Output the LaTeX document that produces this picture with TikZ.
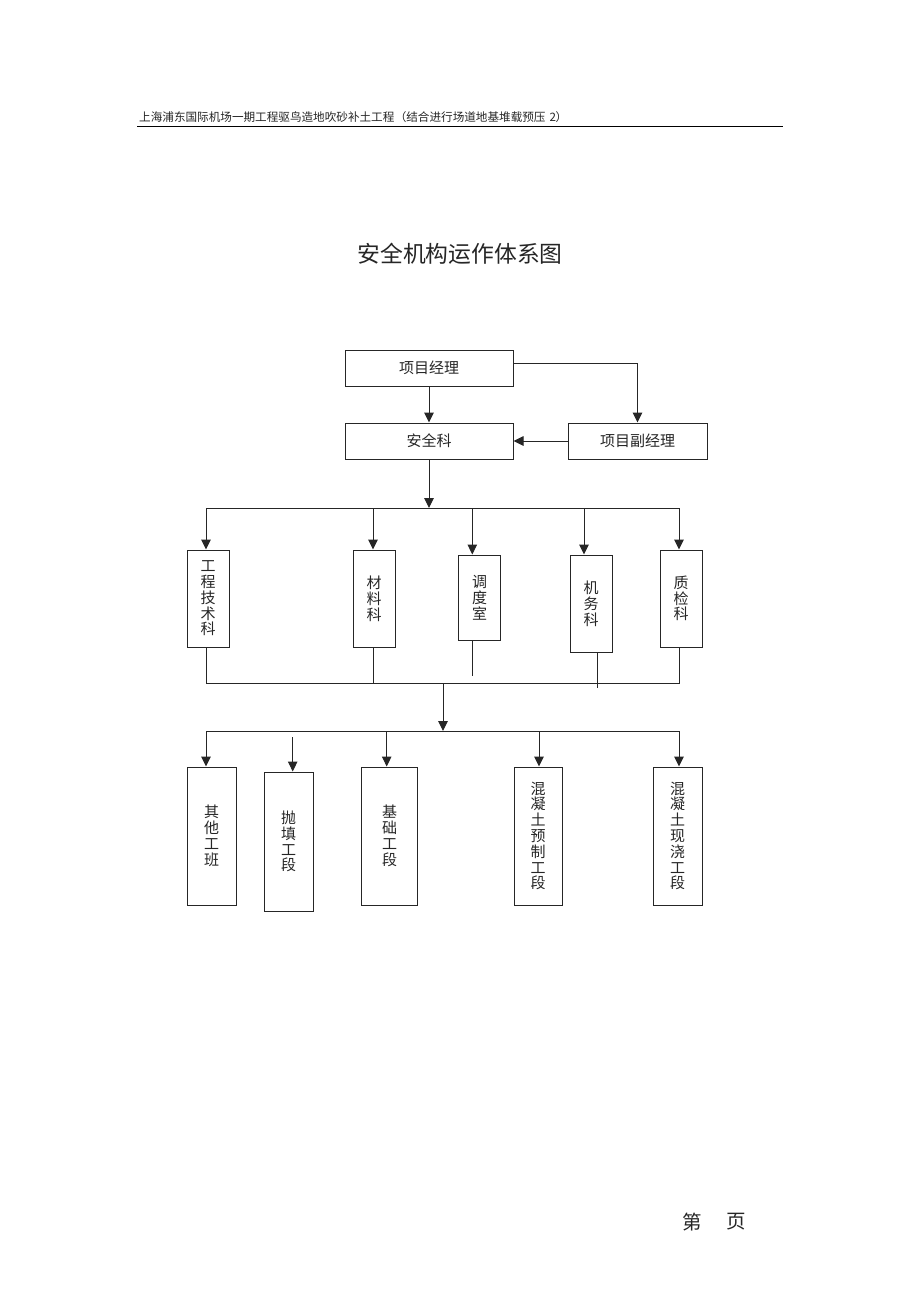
\documentclass[tikz,border=0pt]{standalone}
\usepackage{fontspec}
\setmainfont{Noto Sans CJK SC}
\usetikzlibrary{arrows.meta,calc}
\definecolor{ink}{gray}{0.15}
\begin{document}
\begin{tikzpicture}[x=1pt,y=-1pt,
  ln/.style={line width=1pt,draw=ink},
  arr/.style={line width=1pt,draw=ink,-{Triangle[width=9.5pt,length=10pt]}},
  box/.style={draw=ink,line width=1pt,inner sep=0pt,align=center,text=ink,font=\fontsize{15}{15.8}\selectfont}]
\fill[white] (0,0) rectangle (920,1302);
\useasboundingbox (0,0) rectangle (920,1302);

% header
\node[anchor=west,inner sep=0pt,text=ink,font=\fontsize{11.6}{12.5}\selectfont] (hdr) at (139,117) {上海浦东国际机场一期工程驱鸟造地吹砂补土工程\makebox[12pt][r]{（}结合进行场道地基堆载预压\hspace{4pt}2\makebox[11pt][c]{）}};
\coordinate (rl) at (137,126.5);
\coordinate (rr) at (783,126.5);
\draw[line width=1.6pt] (rl) -- (rr);

% title
\node[inner sep=0pt,text=ink,font=\fontsize{22.8}{24}\selectfont] (title) at (460,254) {安全机构运作体系图};

% top boxes
\node[box,minimum width=168pt,minimum height=36pt] (pm) at (429,368) {项目经理};
\node[box,minimum width=168pt,minimum height=36pt] (aq) at (429,441) {安全科};
\node[box,minimum width=139pt,minimum height=36pt] (fj) at (637.5,441) {项目副经理};

\draw[arr] (pm) -- (aq);
\coordinate (pmr) at (637.5,363);
\draw[arr] (pm.east |- pmr) -- (pmr) -- (fj.north);
\draw[arr] (fj.west) -- (aq.east);

% first bus
\coordinate (b1) at (429,508);
\coordinate (b1l) at (206,508);
\coordinate (b1r) at (679,508);
\draw[arr] (aq.south) -- (b1);
\draw[ln] (b1l) -- (b1r);

% middle boxes
\node[box,minimum width=42pt,minimum height=97pt] (gc) at (208,598.5) {工\\程\\技\\术\\科};
\node[box,minimum width=42pt,minimum height=97pt] (cl) at (374,598.5) {材\\料\\科};
\node[box,minimum width=42.5pt,minimum height=85pt] (dd) at (479.5,597.5) {调\\度\\室};
\node[box,minimum width=42pt,minimum height=97pt] (jw) at (591,603.5) {机\\务\\科};
\node[box,minimum width=42pt,minimum height=97pt] (zj) at (681,598.5) {质\\检\\科};

\coordinate (a2) at (373,508);
\coordinate (a3) at (472.3,508);
\coordinate (a4) at (584,508);
\draw[arr] (b1l) -- (gc.north -| b1l);
\draw[arr] (a2) -- (cl.north -| a2);
\draw[arr] (a3) -- (dd.north -| a3);
\draw[arr] (a4) -- (jw.north -| a4);
\draw[arr] (b1r) -- (zj.north -| b1r);

% second bus
\coordinate (b2l) at (206,683);
\coordinate (b2r) at (679,683);
\coordinate (b2m) at (443,683);
\coordinate (b2c) at (373,683);
\coordinate (ddend) at (472.3,676);
\coordinate (jwend) at (597.7,688);
\draw[ln] (gc.south -| b2l) -- (b2l) -- (b2r) -- (zj.south -| b2r);
\draw[ln] (cl.south -| b2c) -- (b2c);
\draw[ln] (dd.south -| ddend) -- (ddend);
\draw[ln] (jw.south -| jwend) -- (jwend);

% third bus
\coordinate (b3m) at (443,731);
\coordinate (b3l) at (206,731);
\coordinate (b3r) at (679,731);
\draw[arr] (b2m) -- (b3m);
\draw[ln] (b3l) -- (b3r);

% bottom boxes
\node[box,minimum width=49pt,minimum height=138pt] (qt) at (211.5,836) {其\\他\\工\\班};
\node[box,minimum width=49pt,minimum height=139pt] (ptd) at (288.5,841.5) {抛\\填\\工\\段};
\node[box,minimum width=55.5pt,minimum height=138pt] (jc) at (389.5,836) {基\\础\\工\\段};
\node[box,minimum width=48pt,minimum height=138pt] (yz) at (538,836) {混\\凝\\土\\预\\制\\工\\段};
\node[box,minimum width=49pt,minimum height=138pt] (xj) at (677.5,836) {混\\凝\\土\\现\\浇\\工\\段};

\coordinate (c2) at (292.7,737);
\coordinate (c3) at (386.7,731);
\coordinate (c4) at (539,731);
\draw[arr] (b3l) -- (qt.north -| b3l);
\draw[arr] (c2) -- (ptd.north -| c2);
\draw[arr] (c3) -- (jc.north -| c3);
\draw[arr] (c4) -- (yz.north -| c4);
\draw[arr] (b3r) -- (xj.north -| b3r);

% footer
\node[inner sep=0pt,text=ink,font=\fontsize{19.5}{21}\selectfont] (p1) at (692.5,1222) {第};
\node[inner sep=0pt,text=ink,font=\fontsize{19.5}{21}\selectfont] (p2) at (736,1222) {页};
\end{tikzpicture}
\end{document}
